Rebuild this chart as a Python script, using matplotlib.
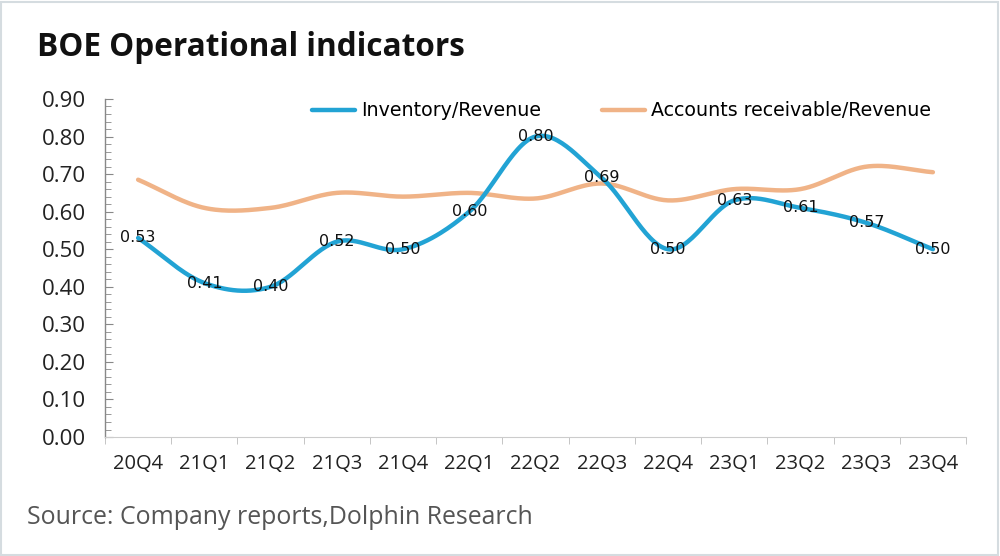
import numpy as np
import matplotlib
matplotlib.use("Agg")
import matplotlib.pyplot as plt
from matplotlib.ticker import MultipleLocator, FixedLocator

quarters = ["20Q4", "21Q1", "21Q2", "21Q3", "21Q4", "22Q1", "22Q2",
            "22Q3", "22Q4", "23Q1", "23Q2", "23Q3", "23Q4"]
inventory_rev = [0.53, 0.41, 0.40, 0.52, 0.50, 0.60, 0.80,
                 0.69, 0.50, 0.63, 0.61, 0.57, 0.50]
receivable_rev = [0.685, 0.61, 0.61, 0.65, 0.64, 0.65, 0.635,
                  0.675, 0.63, 0.66, 0.66, 0.72, 0.705]

BLUE = "#22A3D4"
ORANGE = "#F0B387"


def smooth(xs, ys, n=30):
    xs = np.asarray(xs, float)
    ys = np.asarray(ys, float)
    px = np.concatenate([[2 * xs[0] - xs[1]], xs, [2 * xs[-1] - xs[-2]]])
    py = np.concatenate([[2 * ys[0] - ys[1]], ys, [2 * ys[-1] - ys[-2]]])
    outx, outy = [], []
    t = np.linspace(0, 1, n, endpoint=False)

    def cr(a, b, c, d):
        return 0.5 * ((2 * b) + (-a + c) * t + (2 * a - 5 * b + 4 * c - d) * t ** 2
                      + (-a + 3 * b - 3 * c + d) * t ** 3)

    for i in range(1, len(px) - 2):
        outx.append(cr(px[i - 1], px[i], px[i + 1], px[i + 2]))
        outy.append(cr(py[i - 1], py[i], py[i + 1], py[i + 2]))
    outx.append([xs[-1]])
    outy.append([ys[-1]])
    return np.concatenate(outx), np.concatenate(outy)


fig = plt.figure(figsize=(10, 5.56), dpi=100)
ax = fig.add_axes([0.105, 0.214, 0.861, 0.608])

x = np.arange(len(quarters))
sx, sy = smooth(x, inventory_rev)
ax.plot(sx, sy, color=BLUE, lw=3.2, solid_capstyle="round", label="Inventory/Revenue", zorder=3)
ox, oy = smooth(x, receivable_rev)
ax.plot(ox, oy, color=ORANGE, lw=3.2, solid_capstyle="round", label="Accounts receivable/Revenue", zorder=2)

for xi, v in zip(x, inventory_rev):
    ax.text(xi, v, f"{v:.2f}", ha="center", va="center", fontsize=11.5,
            family="DejaVu Sans", color="#111111", zorder=4)

ax.set_xlim(-0.5, len(quarters) - 0.5)
ax.set_ylim(0, 0.9)
ax.set_yticks(np.arange(0, 0.901, 0.1))
ax.yaxis.set_minor_locator(MultipleLocator(0.02))
ax.set_yticklabels([f"{v:.2f}" for v in np.arange(0, 0.901, 0.1)],
                   fontsize=16, family="Open Sans", color="#222222")
ax.set_xticks(x)
ax.set_xticklabels(quarters, fontsize=14.5, family="Open Sans", color="#222222")
ax.xaxis.set_minor_locator(FixedLocator(np.arange(-0.5, len(quarters), 1.0)))
ax.tick_params(axis="x", which="major", length=0, pad=12)
ax.tick_params(axis="x", which="minor", length=5, color="#BBBBBB", direction="out")
ax.tick_params(axis="y", which="major", length=6, color="#888888", direction="in", pad=14)
ax.tick_params(axis="y", which="minor", length=4, color="#888888", direction="in")

for s in ["top", "right"]:
    ax.spines[s].set_visible(False)
ax.spines["left"].set_color("#888888")
ax.spines["bottom"].set_color("#CCCCCC")
ax.spines["left"].set_linewidth(1.0)

leg = ax.legend(loc="center", bbox_to_anchor=(0.6, 0.965), ncol=2, frameon=False,
                prop={"family": "DejaVu Sans", "size": 13.7}, handlelength=2.26,
                columnspacing=3.2, handletextpad=0.3)

fig.text(0.037, 0.915, "BOE Operational indicators", fontsize=22.7, fontweight="bold",
         family="Open Sans", color="#111111", va="center")
fig.text(0.027, 0.07, "Source: Company reports,Dolphin Research", fontsize=17.9,
         family="Open Sans", color="#555555", va="center")

fig.patches.append(plt.Rectangle((0.001, 0.002), 0.997, 0.995, transform=fig.transFigure,
                                 fill=False, edgecolor="#D5DCE0", lw=1.5))

fig.savefig("out.png", dpi=100, facecolor="white")
